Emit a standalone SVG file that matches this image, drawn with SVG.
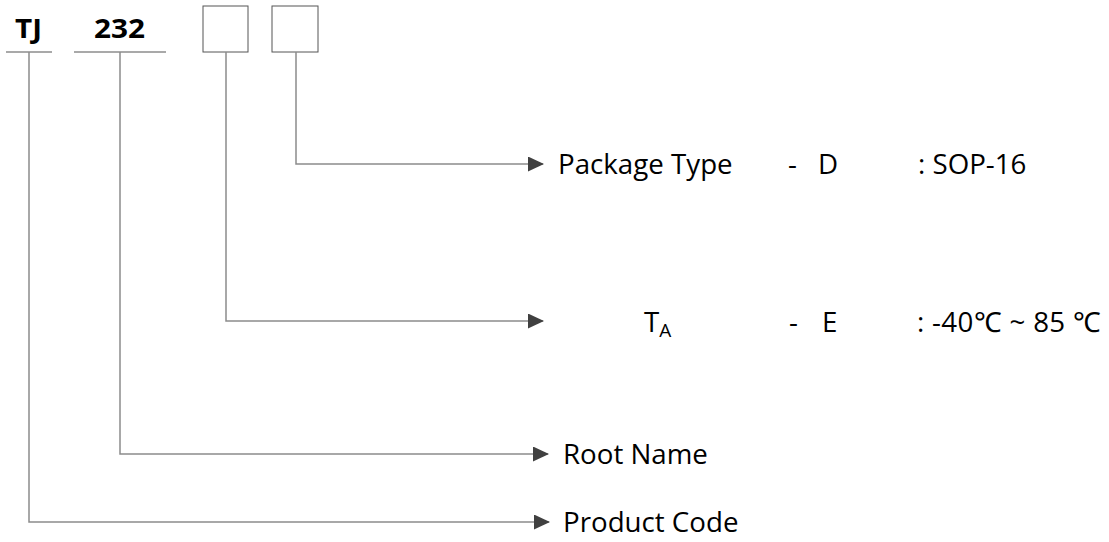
<svg xmlns="http://www.w3.org/2000/svg" width="1109" height="542" viewBox="0 0 1109 542">
<style>
text{font-family:"Open Sans","Liberation Sans",sans-serif;fill:#000;font-size:27.7px}
.b{font-weight:bold;font-size:27px}
.ln{stroke:#8c8c8c;stroke-width:1.5;fill:none}
.bx{stroke:#555;stroke-width:1;fill:#fff}
.ar{stroke:#8c8c8c;stroke-width:1.5;fill:none;marker-end:url(#ah)}
</style>
<defs>
<marker id="ah" markerWidth="16" markerHeight="15" refX="15" refY="7.5" orient="auto" markerUnits="userSpaceOnUse">
<path d="M0,0 L16,7.5 L0,15 Z" fill="#404040"/>
</marker>
</defs>
<rect width="1109" height="542" fill="#fff"/>
<g id="tj"><text class="b" x="15" y="38" textLength="27" lengthAdjust="spacingAndGlyphs">TJ</text><line class="ln" x1="6" y1="52" x2="52" y2="52"/></g>
<g id="n232"><text class="b" x="94" y="38" textLength="51" lengthAdjust="spacingAndGlyphs">232</text><line class="ln" x1="74" y1="52" x2="166" y2="52"/></g>
<g id="box1"><rect class="bx" x="203" y="6" width="45" height="46"/></g>
<g id="box2"><rect class="bx" x="272" y="6" width="46" height="46"/></g>
<g id="connectors">
<polyline class="ar" points="296,52 296,164 543,164"/>
<polyline class="ar" points="226,52 226,321 543,321"/>
<polyline class="ar" points="120,52 120,454 548,454"/>
<polyline class="ar" points="29,52 29,522 549,522"/>
</g>
<g id="pkg"><text x="558" y="174">Package Type</text><text x="788" y="174">-</text><text x="818" y="174">D</text><text x="918" y="174">: SOP-16</text></g>
<g id="ta"><text x="644" y="332">T<tspan font-size="19" dy="5">A</tspan></text><text x="789" y="332">-</text><text x="822" y="332">E</text><text x="917" y="332" textLength="184">: -40℃ ~ 85 ℃</text></g>
<g id="root"><text x="563" y="464">Root Name</text></g>
<g id="prod"><text x="563" y="532">Product Code</text></g>
</svg>
